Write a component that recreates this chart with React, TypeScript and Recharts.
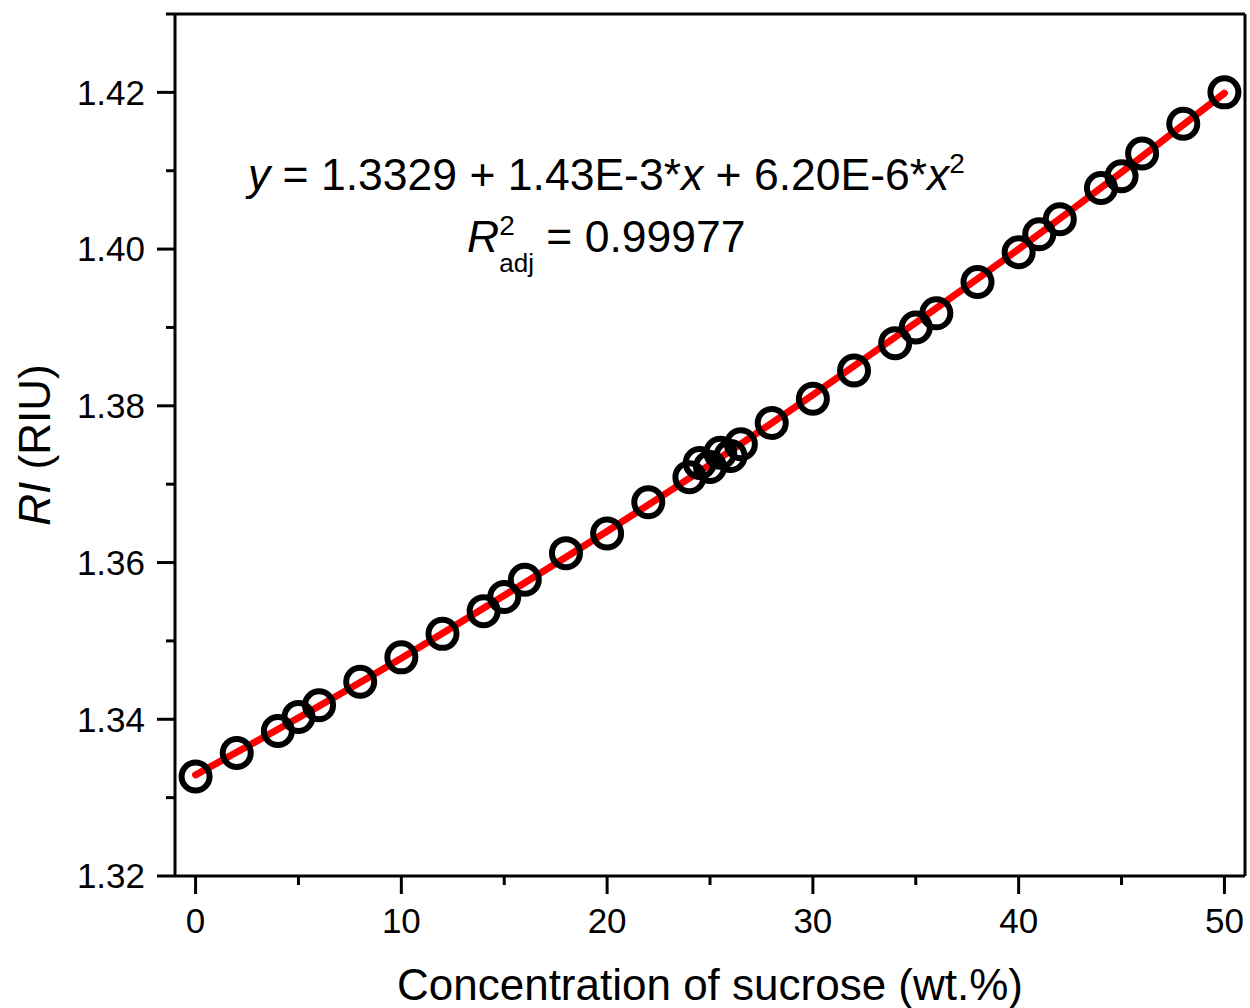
import {
  ComposedChart,
  Scatter,
  Line,
  XAxis,
  YAxis,
  ReferenceLine,
} from "recharts";

// measured refractive index vs sucrose concentration
const concentration = [
  0, 2, 4, 5, 6, 8, 10, 12, 14, 15, 16, 18, 20, 22, 24, 24.5, 25, 25.5, 26, 26.5,
  28, 30, 32, 34, 35, 36, 38, 40, 41, 42, 44, 45, 46, 48, 50,
];
const refractiveIndex = [
  1.3327, 1.3357, 1.3385, 1.3403, 1.3418, 1.3448, 1.3479, 1.3509, 1.3538, 1.3556,
  1.3578, 1.3612, 1.3637, 1.3677, 1.3709, 1.3727, 1.3722, 1.374, 1.3736, 1.3751,
  1.3778, 1.3809, 1.3845, 1.388, 1.39, 1.3918, 1.3958, 1.3996, 1.4019, 1.4038,
  1.4078, 1.4093, 1.4122, 1.416, 1.42,
];

// fitted curve
const fitX = [0, 5, 10, 15, 20, 25, 30, 35, 40, 45, 50];
const fitY = [
  1.3329, 1.3402, 1.3478, 1.3558, 1.364, 1.3725, 1.3814, 1.3906, 1.4, 1.4098, 1.4199,
];

const xTicks = [0, 5, 10, 15, 20, 25, 30, 35, 40, 45, 50];
const yTicks = [1.32, 1.33, 1.34, 1.35, 1.36, 1.37, 1.38, 1.39, 1.4, 1.41, 1.42, 1.43];

const points = concentration.map((x, i) => ({ x, y: refractiveIndex[i] }));
const fitData = fitX.map((x, i) => ({ x, y: fitY[i] }));

const FONT = "'Liberation Sans', Arial, sans-serif";

function XTick(props: any) {
  const { x, y, payload } = props;
  const v = Number(payload.value);
  const major = Math.round(v) % 10 === 0;
  return (
    <g>
      <line x1={x} x2={x} y1={y} y2={y + (major ? 18 : 9)} stroke="#000" strokeWidth={3} />
      {major && (
        <text x={x} y={y + 57} textAnchor="middle" fontSize={35} fontFamily={FONT} fill="#000">
          {v}
        </text>
      )}
    </g>
  );
}

function YTick(props: any) {
  const { x, y, payload } = props;
  const v = Number(payload.value);
  const major = Math.round(v * 100) % 2 === 0;
  return (
    <g>
      <line x1={x - (major ? 18 : 9)} x2={x} y1={y} y2={y} stroke="#000" strokeWidth={3} />
      {major && (
        <text x={x - 30} y={y} dy="0.35em" textAnchor="end" fontSize={35} fontFamily={FONT} fill="#000">
          {v.toFixed(2)}
        </text>
      )}
    </g>
  );
}

function Ring(props: any) {
  const { cx, cy } = props;
  return <circle cx={cx} cy={cy} r={14} fill="none" stroke="#000" strokeWidth={6} />;
}

export default function App() {
  return (
    <div style={{ position: "absolute", left: 0, top: 0, width: 1250, height: 1008, background: "#fff" }}>
      <ComposedChart
        width={1250}
        height={1008}
        data={fitData}
        margin={{ top: 14, right: 5, bottom: 0, left: 0 }}
        style={{ fontFamily: FONT }}
      >
        <XAxis
          dataKey="x"
          type="number"
          domain={[-1, 51]}
          ticks={xTicks}
          interval={0}
          height={132}
          tickSize={0}
          tickMargin={0}
          tickLine={false}
          axisLine={{ stroke: "#000", strokeWidth: 3 }}
          tick={(p: any) => <XTick {...p} />}
          label={{
            value: "Concentration of sucrose (wt.%)",
            position: "insideBottom",
            offset: 8,
            fontSize: 44,
            fill: "#000",
            fontFamily: FONT,
          }}
        />
        <YAxis
          dataKey="y"
          type="number"
          domain={[1.32, 1.43]}
          ticks={yTicks}
          interval={0}
          width={175}
          tickSize={0}
          tickMargin={0}
          tickLine={false}
          axisLine={{ stroke: "#000", strokeWidth: 3 }}
          tick={(p: any) => <YTick {...p} />}
        />
        <ReferenceLine y={1.43} stroke="#000" strokeWidth={3} />
        <ReferenceLine x={51} stroke="#000" strokeWidth={3} />
        <Scatter data={points} dataKey="y" shape={<Ring />} isAnimationActive={false} />
        <Line
          type="monotone"
          dataKey="y"
          stroke="#ff0000"
          strokeWidth={7}
          strokeLinecap="round"
          dot={false}
          activeDot={false}
          isAnimationActive={false}
        />
      </ComposedChart>
      <svg
        width={1250}
        height={1008}
        style={{ position: "absolute", left: 0, top: 0, pointerEvents: "none" }}
        fontFamily={FONT}
        fill="#000"
      >
        <text x={50} y={445} fontSize={44} textAnchor="middle" transform="rotate(-90 50 445)">
          <tspan fontStyle="italic">RI</tspan>
          {" (RIU)"}
        </text>
        <text x={248} y={190} fontSize={44.5}>
          <tspan fontStyle="italic">y</tspan>
          {" = 1.3329 + 1.43E-3*"}
          <tspan fontStyle="italic">x</tspan>
          {" + 6.20E-6*"}
          <tspan fontStyle="italic">x</tspan>
          <tspan fontSize={28} dy={-17}>2</tspan>
        </text>
        <text x={467} y={252} fontSize={44.5}>
          <tspan fontStyle="italic">R</tspan>
          <tspan fontSize={28} dy={-17}>2</tspan>
          <tspan fontSize={26} dx={-15.5} dy={37}>adj</tspan>
          <tspan dy={-20}>{" = 0.99977"}</tspan>
        </text>
      </svg>
    </div>
  );
}
